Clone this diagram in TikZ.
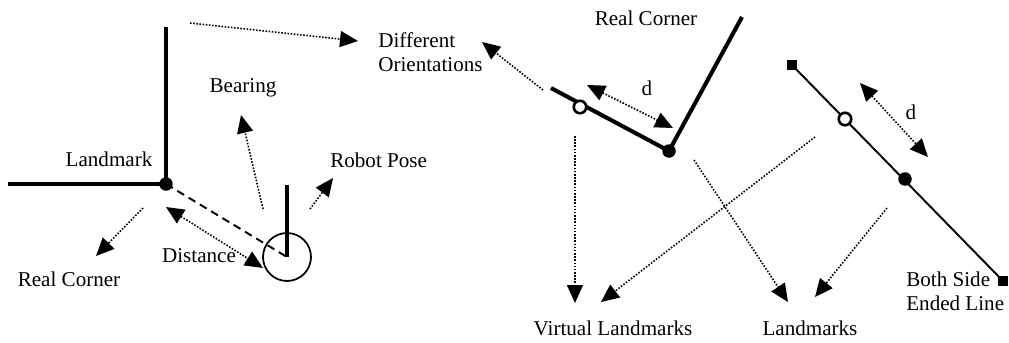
\documentclass[tikz,border=0pt]{standalone}
\usepackage{fontspec}
\setmainfont{Liberation Serif}
\usetikzlibrary{arrows.meta,calc,positioning}

\begin{document}
\begin{tikzpicture}[x=0.02cm, y=-0.02cm,
  wall/.style={line width=2.3pt},
  seg/.style={line width=1.1pt},
  hint/.style={line width=0.9pt, dash pattern=on 0.9pt off 0.9pt, -{Triangle[length=0.36cm,width=0.32cm]}},
  hintboth/.style={hint, {Triangle[length=0.36cm,width=0.32cm]}-{Triangle[length=0.36cm,width=0.32cm]}},
  lbl/.style={font=\fontsize{12}{13.6}\selectfont, inner sep=0pt},
  corner/.style={circle, fill, inner sep=0pt, minimum size=0.27cm},
  virt/.style={circle, draw, fill=white, line width=1.5pt, inner sep=0pt, minimum size=0.25cm},
  lend/.style={rectangle, fill, inner sep=0pt, minimum size=0.21cm}]

\useasboundingbox (0,0) rectangle (1009,342);

% Corner and robot
\coordinate (wl) at (8,184);
\coordinate (wt) at (166,27);
\node[corner] (lm) at (166,184) {};
\draw[wall] (wl) -- (lm.center) -- (wt);
\node[circle, draw, line width=1pt, inner sep=0pt, minimum size=0.96cm] (robot) at (287,257) {};
\coordinate (head) at (287,185);
\draw[wall] (head) -- (robot.center);
\draw[line width=1.1pt, dash pattern=on 4.5pt off 3pt] (lm.center) -- (robot.center);

% Labels left
\node[lbl] (lmtxt) at (109,159) {Landmark};
\node[lbl] (bear) at (243,88) {Bearing};
\node[lbl, anchor=west] (pose) at (330,160) {Robot Pose};
\node[lbl] (dist) at (199,256) {Distance};
\node[lbl] (rc1) at (69,279) {Real Corner};

% Arrows left
\coordinate (a1) at (143,208); \coordinate (b1) at (96,256);
\coordinate (a2) at (263,209); \coordinate (b2) at (241,115);
\coordinate (a3) at (310,209); \coordinate (b3) at (333,178);
\coordinate (a4) at (166,207); \coordinate (b4) at (263,268);
\coordinate (a5) at (190,23);  \coordinate (b5) at (358,41);
\draw[hint] (a1) -- (b1);
\draw[hint] (a2) -- (b2);
\draw[hint] (a3) -- (b3);
\draw[hintboth] (a4) -- (b4);
\draw[hint] (a5) -- (b5);

% Real corner, middle
\node[lbl] (rc2) at (646,18) {Real Corner};
\node[lbl, align=left, anchor=west] (orient) at (378,52) {Different\\Orientations};
\coordinate (sl) at (551,88);
\coordinate (st) at (742,17);
\node[corner] (c2) at (669,151) {};
\draw[wall] (sl) -- (c2.center) -- (st);
\node[virt] (v2) at (580,107) {};
\coordinate (d2a) at (587,85); \coordinate (d2b) at (673,128);
\draw[hintboth] (d2a) -- (d2b);
\node[lbl] (d2) at (647,88) {d};
\coordinate (oa) at (543,90); \coordinate (ob) at (482,42);
\draw[hint] (oa) -- (ob);

% Bottom labels
\node[lbl] (vl) at (613,328) {Virtual Landmarks};
\node[lbl] (lms) at (810,328) {Landmarks};
\coordinate (p1) at (575,136); \coordinate (q1) at (575,303);
\coordinate (p2) at (815,137); \coordinate (q2) at (601,302);
\coordinate (p3) at (694,160); \coordinate (q3) at (788,302);
\coordinate (p4) at (887,208); \coordinate (q4) at (815,297);
\draw[hint] (p1) -- (q1);
\draw[hint] (p2) -- (q2);
\draw[hint] (p3) -- (q3);
\draw[hint] (p4) -- (q4);

% Line with both ends
\node[lend] (e1) at (792,65) {};
\node[lend] (e2) at (1003,281) {};
\draw[seg] (e1.center) -- (e2.center);
\node[virt] (v3) at (845,119) {};
\node[corner] (c3) at (905,179) {};
\coordinate (d3a) at (860,83); \coordinate (d3b) at (928,157);
\draw[hintboth] (d3a) -- (d3b);
\node[lbl] (d3) at (911,112) {d};
\node[lbl, align=left, anchor=west] (both) at (906,291) {Both Side\\Ended Line};

\end{tikzpicture}
\end{document}
